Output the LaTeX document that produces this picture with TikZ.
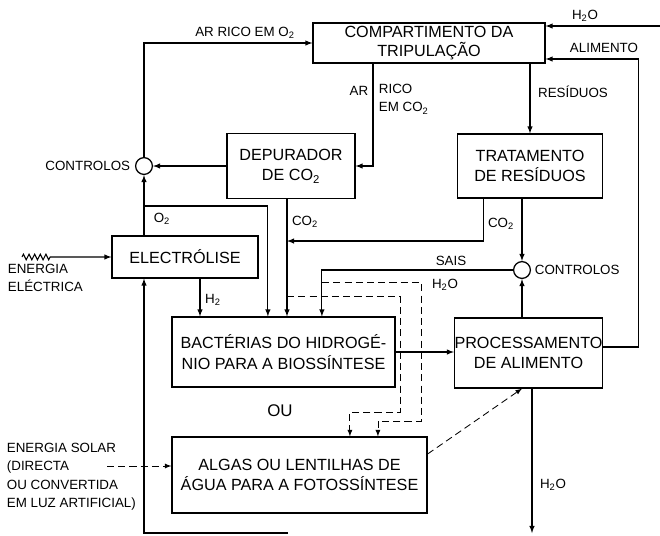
\documentclass[tikz,border=0pt]{standalone}
\usepackage{fontspec}
\setmainfont{Liberation Sans}
\usepackage{tikz}
\usetikzlibrary{arrows,decorations.pathmorphing}

\begin{document}
\begin{tikzpicture}[
		x=0.025cm, y=-0.025cm,
		box style/.style={
			draw,
			line width=0.8pt,
			align=center,
			inner sep=0pt,
			font=\fontsize{11.5}{14.5}\selectfont
		},
		ctl style/.style={draw, circle, line width=0.9pt, minimum size=0.42cm, inner sep=0pt},
		lbl style/.style={font=\fontsize{9.5}{13.2}\selectfont, inner sep=1pt},
		dash style/.style={dash pattern=on 5pt off 3pt, line width=0.6pt},
		>=latex,
		line width=0.75pt
		]
		
		\useasboundingbox (0,0) rectangle (660,535);
		
		\node[box style, minimum width=5.8cm, minimum height=1cm, font=\fontsize{11.5}{13.5}\selectfont] (comp) at (429,43)
		{COMPARTIMENTO DA\\TRIPULAÇÃO};
		
		\node[box style, minimum width=3.2cm, minimum height=1.625cm] (depur) at (291,166)
		{DEPURADOR\\DE CO\textsubscript{2}};
		
		\node[box style, minimum width=3.625cm, minimum height=1.6cm] (trat) at (530,166)
		{TRATAMENTO\\DE RESÍDUOS};
		
		\node[box style, minimum width=3.65cm, minimum height=1.05cm] (elec) at (185,257)
		{ELECTRÓLISE};
		
		\node[box style, minimum width=5.575cm, minimum height=1.75cm] (bact) at (283.5,352)
		{BACTÉRIAS DO HIDROGÉ-\\NIO PARA A BIOSSÍNTESE};
		
		\node[box style, minimum width=3.675cm, minimum height=1.75cm] (proc) at (528.5,353)
		{PROCESSAMENTO\\DE ALIMENTO};
		
		\node[box style, minimum width=6.375cm, minimum height=1.9cm] (algas) at (299.5,475)
		{ALGAS OU LENTILHAS DE\\ÁGUA PARA A FOTOSSÍNTESE};
		
		\node[ctl style] (ctlA) at (144,166) {};
		\node[ctl style] (ctlB) at (522,270) {};
		
		\coordinate (h2oin) at (660,26);
		\coordinate (o2split) at (144,206);
		\coordinate (co2join) at (287,241);
		\coordinate (h2osplit) at (322,282);
		\coordinate (co2split) at (287,296);
		\coordinate (retend) at (288,533);
		\coordinate (h2oout) at (532,533);
		\coordinate (solar) at (107,466);
		\coordinate (zz) at (22,257);
		
		% top loop
		\draw[->] (ctlA.north) |- (comp.west);
		\draw[->] (h2oin) -- (comp.east |- h2oin);
		\draw[->] ([yshift=0.15cm]proc.east) -- ++(35,0) |- ([yshift=-0.4cm]comp.east);
		\draw[->] ([xshift=-1.4cm]comp.south) |- (depur.east);
		\draw[->] (comp.south -| trat.north) -- (trat.north);
		
		% left side
		\draw[->] (depur.west) -- (ctlA.east);
		\draw[->] (elec.north -| ctlA) -- (ctlA.south);
		\draw[->] (o2split) -| ([xshift=-0.39cm]bact.north);
		\draw[->] ([xshift=0.375cm]elec.south) -- ([xshift=0.375cm]elec.south |- bact.north);
		\draw[->] (zz) decorate[decoration={zigzag, segment length=4pt, amplitude=2pt}] {-- ++(30,0)} -- (elec.west);
		\draw[->] (retend) -| (elec.south -| ctlA);
		
		% CO2 and controls
		\draw[->] ([xshift=-0.1cm]depur.south) -- ([xshift=-0.1cm]depur.south |- bact.north);
		\draw[->] ([xshift=-1.16cm]trat.south) |- (co2join);
		\draw[->] (trat.south -| ctlB) -- (ctlB.north);
		\draw[->] (proc.north -| ctlB) -- (ctlB.south);
		\draw[->] (ctlB.west) -| ([xshift=0.96cm]bact.north);
		\draw[->, dash style] (h2osplit) -- ++(99,0) -- ++(0,139) -| ([xshift=1.96cm]algas.north);
		\draw[->, dash style] (co2split) -- ++(113,0) -- ++(0,116) -| ([xshift=1.26cm]algas.north);
		
		% food
		\draw[->] (bact.east) -- (proc.west |- bact.east);
		\draw[->, dash style] ([yshift=0.525cm]algas.east) -- (proc.south -| ctlB);
		\draw[->] (proc.south -| h2oout) -- (h2oout);
		\draw[->, dash style] (solar) -- (algas.west |- solar);
		
		% labels
		\node[lbl style] (lo2) at (245,33) {AR RICO EM O\textsubscript{2}};
		\node[lbl style] (lh2oa) at (585,16) {H\textsubscript{2}O};
		\node[lbl style] (lalim) at (604,48) {ALIMENTO};
		\node[lbl style] (lar) at (359,91) {AR};
		\node[lbl style, anchor=west, align=left] (lrico) at (377,99) {RICO\\EM CO\textsubscript{2}};
		\node[lbl style] (lres) at (573,92) {RESÍDUOS};
		\node[lbl style, anchor=east] (lctlA) at (132,166) {CONTROLOS};
		\node[lbl style] (lo2b) at (162,219) {O\textsubscript{2}};
		\node[lbl style] (lco2a) at (305,222) {CO\textsubscript{2}};
		\node[lbl style] (lh2) at (213,300) {H\textsubscript{2}};
		\node[lbl style] (lco2b) at (501,224) {CO\textsubscript{2}};
		\node[lbl style] (lsais) at (451,261) {SAIS};
		\node[lbl style] (lh2ob) at (445,285) {H\textsubscript{2}O};
		\node[lbl style, anchor=west] (lctlB) at (533,270) {CONTROLOS};
		\node[font=\fontsize{12}{14}\selectfont] (lou) at (280,411) {OU};
		\node[lbl style] (lh2oc) at (553,485) {H\textsubscript{2}O};
		\node[lbl style, anchor=north west, align=left] (lelec) at (6,262) {ENERGIA\\ELÉCTRICA};
		\node[lbl style, anchor=north west, align=left] (lsolar) at (5,441)
		{ENERGIA SOLAR\\(DIRECTA\\OU CONVERTIDA\\EM LUZ ARTIFICIAL)};
		
	\end{tikzpicture}
\end{document}
